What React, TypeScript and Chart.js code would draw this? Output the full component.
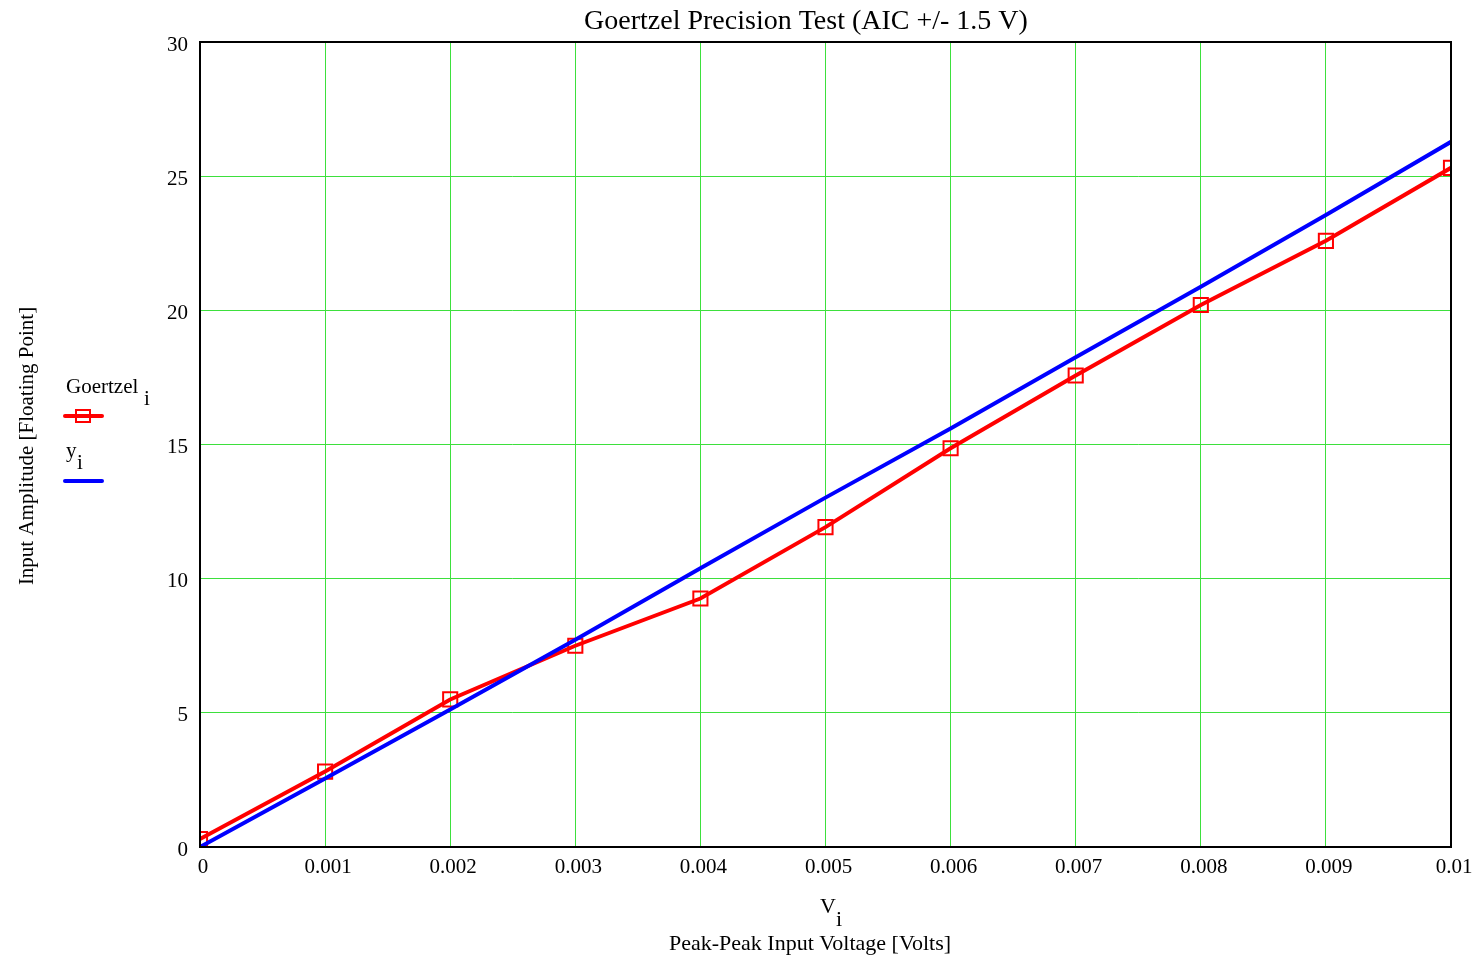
import React, { useEffect, useRef } from "react";
import { Chart, registerables } from "chart.js";

Chart.register(...registerables);

const voltages = [0, 0.001, 0.002, 0.003, 0.004, 0.005, 0.006, 0.007, 0.008, 0.009, 0.01];
const goertzel = [0.3, 2.81, 5.5, 7.5, 9.26, 11.92, 14.86, 17.57, 20.2, 22.59, 25.31];
const ideal = [0, 2.55, 5.12, 7.72, 10.39, 13.02, 15.6, 18.25, 20.88, 23.55, 26.28];

const titleText = "Goertzel Precision Test (AIC +/- 1.5 V)";
const xLabel = "Peak-Peak Input Voltage [Volts]";
const yLabel = "Input Amplitude [Floating Point]";
const legendNames = ["Goertzel", "y"];

const FONT = "'Liberation Serif', 'Times New Roman', serif";

const decorPlugin = {
  id: "decor",
  afterDatasetsDraw(chart: any) {
    const ctx = chart.ctx;
    const a = chart.chartArea;
    ctx.save();
    ctx.strokeStyle = "#000";
    ctx.lineWidth = 2;
    ctx.strokeRect(a.left, a.top, a.right - a.left, a.bottom - a.top);
    ctx.restore();
  },
  afterDraw(chart: any) {
    const ctx = chart.ctx;
    ctx.save();
    ctx.fillStyle = "#000";
    ctx.textBaseline = "alphabetic";
    ctx.font = `28px ${FONT}`;
    ctx.textAlign = "center";
    ctx.fillText(titleText, 806, 29);
    ctx.font = `22px ${FONT}`;
    ctx.textAlign = "left";
    ctx.fillText("V", 820, 913);
    ctx.fillText("i", 836, 926);
    ctx.textAlign = "center";
    ctx.fillText(xLabel, 810, 950);
    ctx.save();
    ctx.translate(33, 446);
    ctx.rotate(-Math.PI / 2);
    ctx.textAlign = "center";
    ctx.font = `21px ${FONT}`;
    ctx.fillText(yLabel, 0, 0);
    ctx.restore();
    ctx.font = `21px ${FONT}`;
    ctx.textAlign = "left";
    ctx.fillText(legendNames[0], 66, 393);
    ctx.fillText("i", 144, 405);
    ctx.fillText(legendNames[1], 66, 457);
    ctx.fillText("i", 77, 469);
    ctx.lineCap = "round";
    ctx.lineWidth = 4;
    ctx.strokeStyle = "#ff0000";
    ctx.beginPath();
    ctx.moveTo(65, 416);
    ctx.lineTo(102, 416);
    ctx.stroke();
    ctx.lineWidth = 2;
    ctx.strokeRect(76, 410, 14, 12);
    ctx.lineWidth = 4;
    ctx.strokeStyle = "#0000ff";
    ctx.beginPath();
    ctx.moveTo(65, 481);
    ctx.lineTo(102, 481);
    ctx.stroke();
    ctx.restore();
  },
};

export default function App() {
  const ref = useRef<HTMLCanvasElement | null>(null);
  useEffect(() => {
    if (!ref.current) return;
    const chart = new Chart(ref.current, {
      type: "line",
      data: {
        datasets: [
          {
            label: "Goertzel_i",
            data: voltages.map((v, i) => ({ x: v, y: goertzel[i] })),
            borderColor: "#ff0000",
            borderWidth: 4,
            pointStyle: "rect",
            pointRadius: 10,
            pointBorderWidth: 2,
            pointBorderColor: "#ff0000",
            pointBackgroundColor: "rgba(0,0,0,0)",
            tension: 0,
            order: 1,
          },
          {
            label: "y_i",
            data: voltages.map((v, i) => ({ x: v, y: ideal[i] })),
            borderColor: "#0000ff",
            borderWidth: 4,
            pointRadius: 0,
            tension: 0,
            order: 0,
          },
        ],
      },
      options: {
        responsive: false,
        animation: false,
        layout: { padding: { top: 42, right: 25, left: 0, bottom: 0 } },
        plugins: {
          legend: { display: false },
          title: { display: false },
          tooltip: { enabled: false },
        },
        scales: {
          x: {
            type: "linear",
            min: 0,
            max: 0.01,
            afterFit: (s: any) => {
              s.height = 108;
              s.paddingLeft = 0;
              s.paddingRight = 0;
            },
            ticks: {
              stepSize: 0.001,
              color: "#000",
              font: { family: FONT, size: 21 },
              padding: 8,
              labelOffset: 3,
              maxRotation: 0,
              autoSkip: false,
              callback: (v: any) =>
                Number(v).toFixed(3).replace(/0+$/, "").replace(/\.$/, ""),
            },
            grid: { color: "#3de03d", lineWidth: 1, drawTicks: false },
            border: { display: false },
          },
          y: {
            type: "linear",
            min: 0,
            max: 30,
            afterFit: (s: any) => {
              s.width = 200;
              s.paddingTop = 0;
              s.paddingBottom = 0;
            },
            ticks: {
              stepSize: 5,
              color: "#000",
              font: { family: FONT, size: 21 },
              padding: 12,
              labelOffset: 3,
            },
            grid: { color: "#3de03d", lineWidth: 1, drawTicks: false },
            border: { display: false },
          },
        },
      },
      plugins: [decorPlugin],
    } as any);
    return () => chart.destroy();
  }, []);
  return (
    <div style={{ position: "fixed", left: 0, top: 0, width: 1476, height: 955, background: "#fff" }}>
      <canvas ref={ref} width={1476} height={955} />
    </div>
  );
}
